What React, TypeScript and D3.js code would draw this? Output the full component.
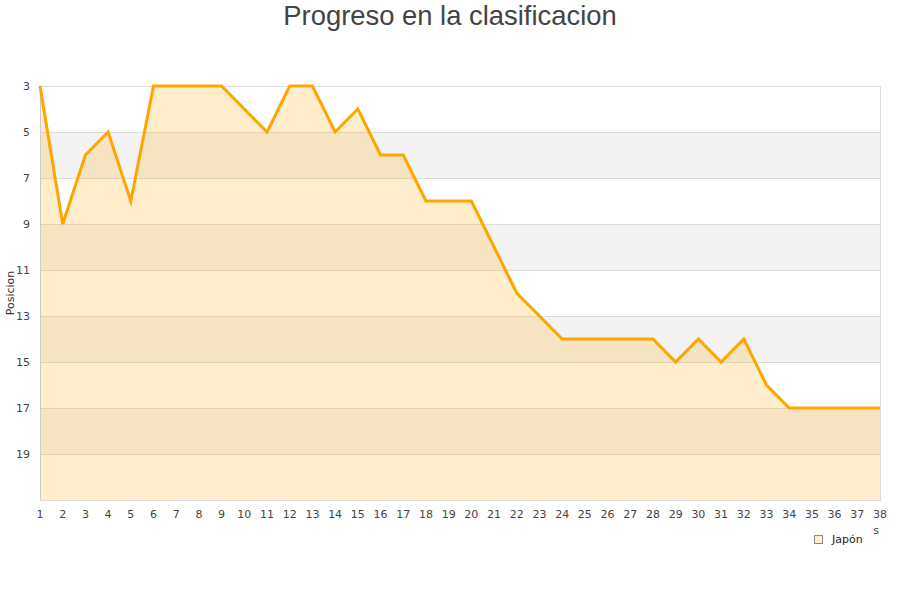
import React from 'react';
import * as d3 from 'd3';

const jornadas = d3.range(1, 39);
const posiciones = [3, 9, 6, 5, 8, 3, 3, 3, 3, 4, 5, 3, 3, 5, 4, 6, 6, 8, 8, 8, 10, 12, 13, 14, 14, 14, 14, 14, 15, 14, 15, 14, 16, 17, 17, 17, 17, 17];
const yTicks = [3, 5, 7, 9, 11, 13, 15, 17, 19];
const bands = [[5, 7], [9, 11], [13, 15], [17, 19]];
const serieNombre = 'Japón';

const W = 900;
const H = 600;
const M = { left: 40, right: 20, top: 86, bottom: 100 };

const App: React.FC = () => {
  const x = d3.scaleLinear().domain([1, 38]).range([M.left, W - M.right]);
  const y = d3.scaleLinear().domain([3, 21]).range([M.top, H - M.bottom]);

  const data = jornadas.map((j, i) => ({ j, p: posiciones[i] }));
  const area = d3.area<{ j: number; p: number }>()
    .x(d => x(d.j))
    .y0(y(21))
    .y1(d => y(d.p));
  const line = d3.line<{ j: number; p: number }>()
    .x(d => x(d.j))
    .y(d => y(d.p));

  const font = 'DejaVu Sans, sans-serif';

  return (
    <svg width={W} height={H} style={{ position: 'absolute', left: 0, top: 0, background: '#fff' }}>
      <text x={W / 2} y={25} textAnchor="middle" fontFamily="Liberation Sans, Arial, sans-serif" fontSize={27.4} fill="#444">
        Progreso en la clasificacion
      </text>

      {/* bandas alternas */}
      {bands.map(([a, b]) => (
        <rect key={a} x={x(1)} y={y(a)} width={x(38) - x(1)} height={y(b) - y(a)} fill="#f3f3f3" />
      ))}
      {/* rejilla */}
      {yTicks.map(t => (
        <line key={t} x1={x(1)} x2={x(38)} y1={y(t) + 0.5} y2={y(t) + 0.5} stroke="#dcdcdc" strokeWidth={1} />
      ))}

      <path d={area(data) || ''} fill="rgba(255,165,0,0.2)" />

      <rect x={x(1) + 0.5} y={y(3) + 0.5} width={x(38) - x(1)} height={y(21) - y(3)} fill="none" stroke="#dcdcdc" />
      <line x1={x(1) + 0.5} x2={x(1) + 0.5} y1={y(3)} y2={y(21)} stroke="#ccc" />

      <path d={line(data) || ''} fill="none" stroke="#ffa500" strokeWidth={3} strokeLinejoin="miter" />

      {yTicks.map(t => (
        <text key={t} x={30} y={y(t)} dy="0.35em" textAnchor="end" fontFamily={font} fontSize={11} fill="#444">
          {t}
        </text>
      ))}
      {jornadas.map(j => (
        <text key={j} x={x(j)} y={518} textAnchor="middle" fontFamily={font} fontSize={11} fill="#444">
          {j}
        </text>
      ))}

      <text transform={`translate(14,${(y(3) + y(21)) / 2}) rotate(-90)`} textAnchor="middle" fontFamily={font} fontSize={11} fill="#333">
        Posicion
      </text>
      <text x={876} y={534} textAnchor="middle" fontFamily={font} fontSize={11} fill="#444">s</text>

      <rect x={814.5} y={535.5} width={8} height={8} fill="rgba(255,165,0,0.2)" stroke="#888" />
      <text x={832} y={543} fontFamily={font} fontSize={11} fill="#222">{serieNombre}</text>
    </svg>
  );
};

export default App;
